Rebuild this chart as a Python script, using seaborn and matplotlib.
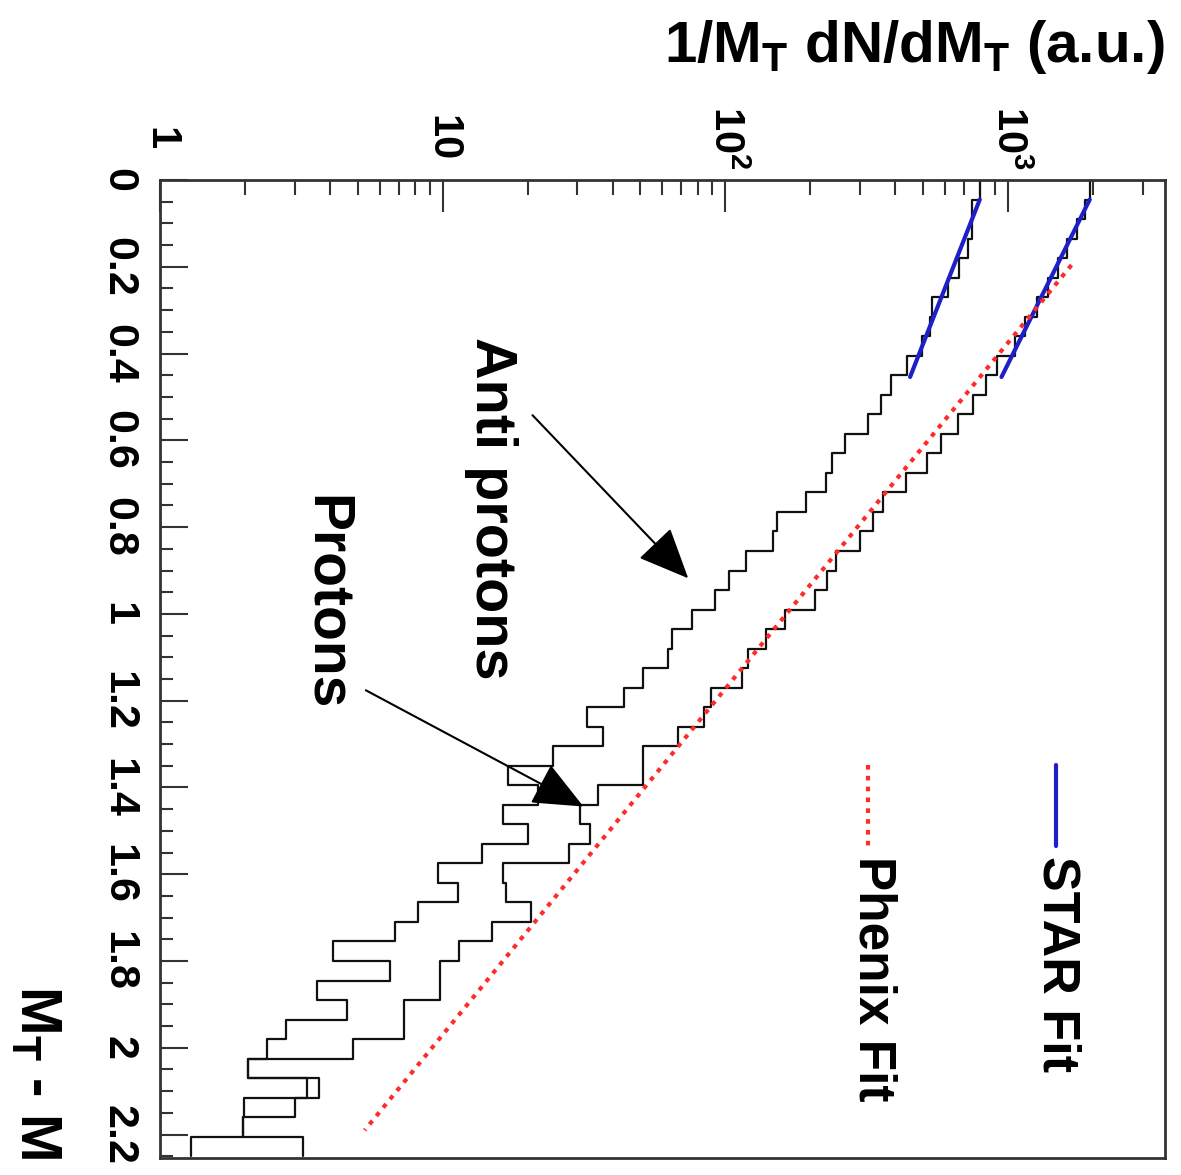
import numpy as np
import matplotlib
matplotlib.use("Agg")
import matplotlib.pyplot as plt
import seaborn as sns
from matplotlib.ticker import FixedLocator, NullFormatter

# ---------------- data ----------------
bin_width = 0.045
n_bins = 50

# Protons (upper histogram), 1/M_T dN/dM_T per bin, bins of 0.045 from 0
protons = [1950, 1871, 1754, 1616, 1503, 1384, 1265, 1148, 1059, 914,
           836, 752, 665, 580, 517, 436, 362, 333, 300, 247,
           229, 208, 163, 140, 120, 115, 89, 84, 68, 51,
           51, 35.6, 30.7, 33.3, 27.9, 16.3, 16.7, 20.5, 15.0, 11.4,
           9.8, 9.8, 7.3, 7.3, 4.8, 2.05, 3.65, 3.0, 1.96, 3.2]

# Anti protons (lower histogram)
antiprotons = [796, 746, 746, 722, 671, 614, 539, 530, 497, 440,
               386, 356, 320, 266, 239, 227, 193, 153, 148, 118,
               103, 92, 76, 65, 63, 51, 44, 32.5, 36.8, 24.5,
               17.0, 21.8, 16.4, 20.0, 13.8, 9.6, 11.3, 8.2, 6.8, 4.1,
               6.5, 3.6, 4.6, 2.8, 2.4, 2.05, 3.3, 1.98, 1.96, 1.29]

# STAR fits (exponential, straight on log axis)
star_x = [0.045, 0.454]
star_protons = [1950, 950]
star_antiprotons = [796, 451]

# Phenix fit
phenix_x = [0.196, 2.19]
phenix_protons = [1680, 5.3]

log_ticks = [1, 10, 100, 1000]
log_ticklabels = ["1", "10", r"$\mathbf{10^{2}}$", r"$\mathbf{10^{3}}$"]
mt_ticks = [0, 0.2, 0.4, 0.6, 0.8, 1.0, 1.2, 1.4, 1.6, 1.8, 2.0, 2.2]
mt_ticklabels = ["0", "0.2", "0.4", "0.6", "0.8", "1", "1.2", "1.4", "1.6", "1.8", "2", "2.2"]

# ---------------- style ----------------
sns.set_theme(style="white")
plt.rcParams["font.family"] = ["Liberation Sans", "DejaVu Sans"]
plt.rcParams["mathtext.fontset"] = "custom"
plt.rcParams["mathtext.rm"] = "Liberation Sans"
plt.rcParams["mathtext.bf"] = "Liberation Sans:bold"
plt.rcParams["mathtext.it"] = "Liberation Sans:italic"
plt.rcParams["text.color"] = "black"
plt.rcParams["xtick.color"] = "black"
plt.rcParams["ytick.color"] = "black"
plt.rcParams["xtick.labelcolor"] = "black"
plt.rcParams["ytick.labelcolor"] = "black"

fig = plt.figure(figsize=(11.81, 11.75), dpi=100)
ax = fig.add_axes([0.13548, 0.01447, 0.85097, 0.83234])

edges = np.arange(n_bins + 1) * bin_width


def step_outline(values):
    xs, ys = [], []
    for k, v in enumerate(values):
        xs += [v, v]
        ys += [edges[k], edges[k + 1]]
    return xs, ys


for vals in (protons, antiprotons):
    xs, ys = step_outline(vals)
    sns.lineplot(x=xs, y=ys, sort=False, estimator=None, color="#111111",
                 lw=1.6, ax=ax)

sns.lineplot(x=star_protons, y=star_x, sort=False, estimator=None,
             color="#1f1fc8", lw=3.0, ax=ax)
sns.lineplot(x=star_antiprotons, y=star_x, sort=False, estimator=None,
             color="#1f1fc8", lw=3.0, ax=ax)
ax.plot(phenix_protons, phenix_x, color="#ff2a2a", lw=3.0,
        linestyle=(0, (1.1, 1.5)))

ax.set_xscale("log")
ax.set_xlim(1, 3600)
ax.set_ylim(2.254, 0)

# ---- log axis on top ----
ax.xaxis.set_ticks_position("top")
ax.xaxis.set_major_locator(FixedLocator(log_ticks))
minor = [m * 10 ** d for d in range(0, 4) for m in range(2, 10) if m * 10 ** d < 3600]
ax.xaxis.set_minor_locator(FixedLocator(minor))
ax.xaxis.set_minor_formatter(NullFormatter())
ax.set_xticklabels(log_ticklabels, rotation=-90, va="center", ha="center",
                   fontsize=30, fontweight="bold", color="black")
ax.tick_params(axis="x", which="major", direction="in", length=23, width=1.5,
               pad=30, top=True, bottom=False, labeltop=True, labelbottom=False,
               color="#333333")
ax.tick_params(axis="x", which="minor", direction="in", length=11, width=1.5,
               top=True, bottom=False, color="#333333")

# ---- M_T - M axis on left ----
ax.yaxis.set_major_locator(FixedLocator(mt_ticks))
ax.yaxis.set_minor_locator(FixedLocator(np.arange(0, 2.26, 0.05)))
ax.yaxis.set_minor_formatter(NullFormatter())
ax.set_yticklabels(mt_ticklabels, rotation=-90, va="center", ha="center",
                   fontsize=31, fontweight="bold", color="black")
ax.tick_params(axis="y", which="major", direction="in", length=20, width=1.5,
               pad=30, left=True, right=False, color="#333333")
ax.tick_params(axis="y", which="minor", direction="in", length=9.5, width=1.5,
               left=True, right=False, color="#333333")

for sp in ax.spines.values():
    sp.set_visible(True)
    sp.set_color("#333333")
    sp.set_linewidth(2.0)

ax.grid(False)
ax.set_xlabel("")
ax.set_ylabel("")

# ---- axis titles ----
fig.text(1165 / 1181, 1 - 18 / 1175, r"1/M$_\mathbf{T}$ dN/dM$_\mathbf{T}$ (a.u.)",
         ha="right", va="top", fontsize=42, fontweight="bold", color="black")
fig.text(63 / 1181, 1 - 985 / 1175, r"M$_\mathbf{T}$ - M", rotation=-90,
         ha="right", va="top", fontsize=42, fontweight="bold", color="black")

# ---- annotations ----
ax.text(14.8, 0.757, "Anti protons", rotation=-90, ha="center", va="center",
        fontsize=41.5, fontweight="bold", color="black")
ax.text(3.86, 0.974, "Protons", rotation=-90, ha="center", va="center",
        fontsize=41, fontweight="bold", color="black")
arrow_kw = dict(arrowstyle="-|>,head_length=1.6,head_width=0.7", color="black",
                lw=1.5, mutation_scale=20, shrinkA=0, shrinkB=0)
ax.annotate("", xy=(74, 0.918), xytext=(20.8, 0.542), arrowprops=arrow_kw)
ax.annotate("", xy=(31.5, 1.444), xytext=(5.35, 1.176), arrowprops=arrow_kw)

# ---- legend ----
ax.plot([1479, 1479], [1.349, 1.534], color="#1f1fc8", lw=3.0)
ax.plot([320, 320], [1.349, 1.534], color="#ff2a2a", lw=3.0,
        linestyle=(0, (1.1, 1.5)))
ax.text(1490, 1.557, "STAR Fit", rotation=-90, ha="center", va="top",
        fontsize=37.5, fontweight="bold", color="black")
ax.text(333, 1.557, "Phenix Fit", rotation=-90, ha="center", va="top",
        fontsize=37, fontweight="bold", color="black")

fig.savefig("out.png", dpi=100)
